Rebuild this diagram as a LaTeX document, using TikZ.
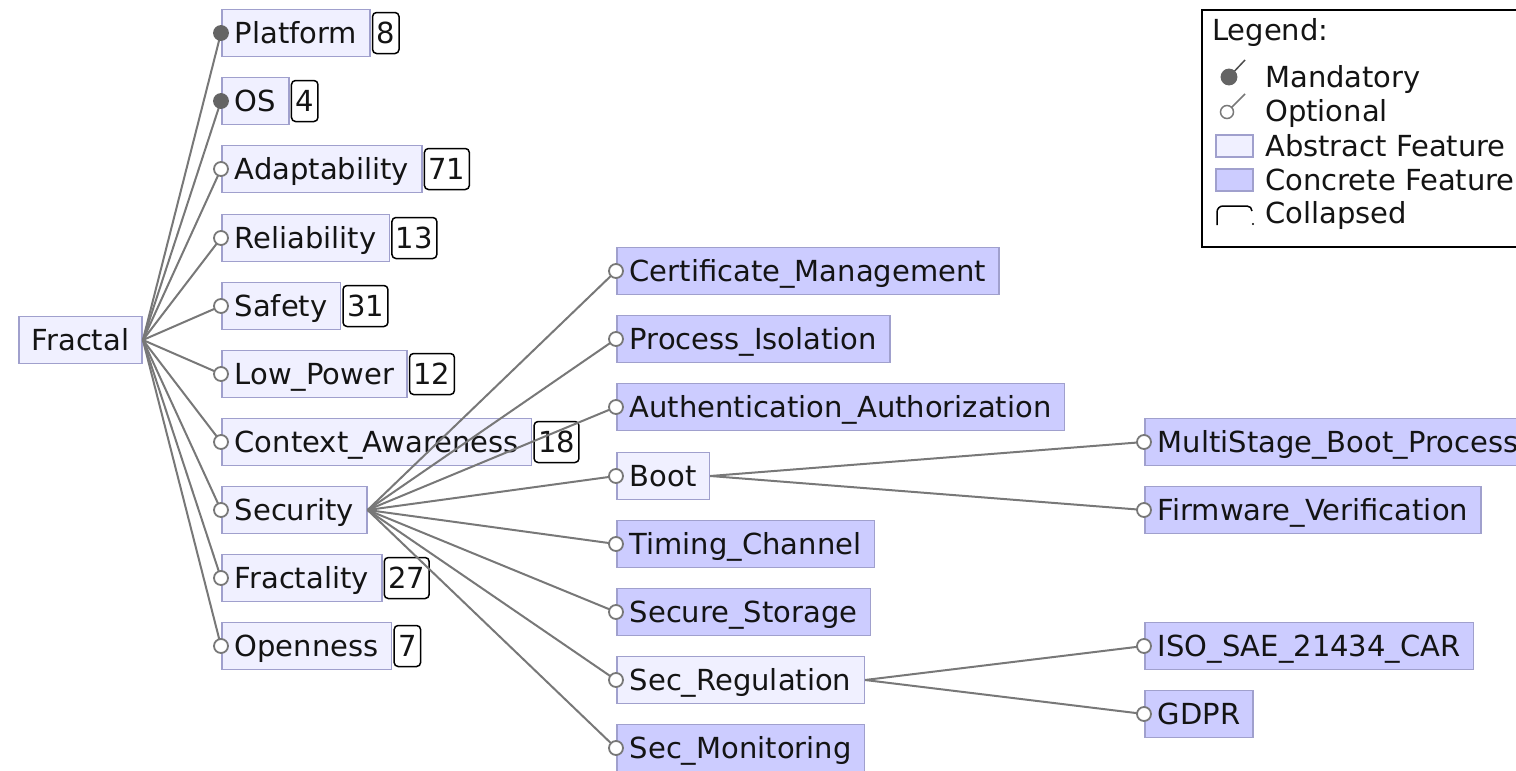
\documentclass[tikz,border=0pt]{standalone}
\usepackage{fontspec}
\setmainfont{DejaVu Sans}
\definecolor{absfill}{RGB}{240,240,255}
\definecolor{confill}{RGB}{204,204,255}
\definecolor{featborder}{RGB}{160,160,205}
\definecolor{edgegray}{RGB}{120,120,120}
\definecolor{mandgray}{RGB}{100,100,100}
\definecolor{ink}{RGB}{20,20,20}
\newcommand{\featfont}{\fontsize{29}{34}\selectfont}
\tikzset{
  feat/.style={draw=featborder, line width=1.5pt, inner xsep=13pt, inner ysep=0pt,
    minimum height=47pt, text height=27pt, text depth=6.4pt, anchor=west,
    font=\featfont, text=ink},
  abstractfeat/.style={feat, fill=absfill},
  concretefeat/.style={feat, fill=confill},
  count/.style={draw=black, line width=1.5pt, fill=white, rounded corners=4pt,
    inner xsep=4pt, inner ysep=0pt, minimum height=41pt, text height=27pt,
    text depth=6.4pt, anchor=west, font=\featfont, text=ink},
  edge/.style={draw=edgegray, line width=2pt},
  optmark/.style={circle, draw=edgegray, fill=white, line width=1.8pt,
    inner sep=0pt, minimum size=14pt},
  mandmark/.style={optmark, draw=mandgray, fill=mandgray},
  legtext/.style={inner sep=0pt, anchor=west, text height=27pt, text depth=6.4pt,
    font=\featfont, text=ink},
}
\begin{document}
\begin{tikzpicture}[x=1pt,y=-1pt]
\useasboundingbox (0,0) rectangle (1516,771);

% root
\node[abstractfeat] (fractal) at (18,340) {Fractal};

% first level
\node[abstractfeat] (platform) at (221,33) {Platform};
\node[count] (platform-n) at ([xshift=1pt]platform.east) {8};
\node[abstractfeat] (os) at (221,101) {OS};
\node[count] (os-n) at ([xshift=1pt]os.east) {4};
\node[abstractfeat] (adapt) at (221,169) {Adaptability};
\node[count] (adapt-n) at ([xshift=1pt]adapt.east) {71};
\node[abstractfeat] (reliab) at (221,238) {Reliability};
\node[count] (reliab-n) at ([xshift=1pt]reliab.east) {13};
\node[abstractfeat] (safety) at (221,306) {Safety};
\node[count] (safety-n) at ([xshift=1pt]safety.east) {31};
\node[abstractfeat] (lowpower) at (221,374) {Low\_Power};
\node[count] (lowpower-n) at ([xshift=1pt]lowpower.east) {12};
\node[abstractfeat] (context) at (221,442) {Context\_Awareness};
\node[count] (context-n) at ([xshift=1pt]context.east) {18};
\node[abstractfeat] (security) at (221,510) {Security};
\node[abstractfeat] (fractality) at (221,578) {Fractality};
\node[count] (fractality-n) at ([xshift=1pt]fractality.east) {27};
\node[abstractfeat] (openness) at (221,646) {Openness};
\node[count] (openness-n) at ([xshift=1pt]openness.east) {7};

% security children
\node[concretefeat] (cert) at (616,271) {Certificate\_Management};
\node[concretefeat] (isol) at (616,339) {Process\_Isolation};
\node[concretefeat] (auth) at (616,407) {Authentication\_Authorization};
\node[abstractfeat] (boot) at (616,476) {Boot};
\node[concretefeat] (timing) at (616,544) {Timing\_Channel};
\node[concretefeat] (storage) at (616,612) {Secure\_Storage};
\node[abstractfeat] (regul) at (616,680) {Sec\_Regulation};
\node[concretefeat] (monit) at (616,748) {Sec\_Monitoring};

% third level
\node[concretefeat] (multiboot) at (1144,442) {MultiStage\_Boot\_Process};
\node[concretefeat] (firmware) at (1144,510) {Firmware\_Verification};
\node[concretefeat] (iso) at (1144,646) {ISO\_SAE\_21434\_CAR};
\node[concretefeat] (gdpr) at (1144,714) {GDPR};

% connectors
\foreach \c in {platform,os,adapt,reliab,safety,lowpower,context,security,fractality,openness}
  \draw[edge] (fractal.east) -- (\c.west);
\foreach \c in {cert,isol,auth,boot,timing,storage,regul,monit}
  \draw[edge] (security.east) -- (\c.west);
\foreach \c in {multiboot,firmware}
  \draw[edge] (boot.east) -- (\c.west);
\foreach \c in {iso,gdpr}
  \draw[edge] (regul.east) -- (\c.west);

% mandatory / optional markers
\foreach \c in {platform,os}
  \node[mandmark] (\c-mark) at (\c.west) {};
\foreach \c in {adapt,reliab,safety,lowpower,context,security,fractality,openness,
                cert,isol,auth,boot,timing,storage,regul,monit,
                multiboot,firmware,iso,gdpr}
  \node[optmark] (\c-mark) at (\c.west) {};

% legend
\draw[black, line width=2pt, fill=white] (1202,10) rectangle (1545,247);
\node[legtext] (leg-title) at (1212,30) {Legend:};
\coordinate (leg-m) at (1229,77);
\coordinate (leg-m-tip) at (1245,60);
\draw[edge, draw=black!70, line width=1.5pt] (leg-m) -- (leg-m-tip);
\node[mandmark, minimum size=15pt] (leg-m-mark) at (leg-m) {};
\node[legtext] (leg-mand) at (1265,77) {Mandatory};
\coordinate (leg-o) at (1227,112);
\coordinate (leg-o-tip) at (1245,94);
\draw[edge, line width=1.5pt] (leg-o) -- (leg-o-tip);
\node[optmark, minimum size=13pt, line width=1.5pt] (leg-o-mark) at (leg-o) {};
\node[legtext] (leg-opt) at (1265,111) {Optional};
\draw[featborder, line width=1.5pt, fill=absfill] (1216,135) rectangle (1253,157);
\node[legtext] (leg-abs) at (1265,146) {Abstract Feature};
\draw[featborder, line width=1.5pt, fill=confill] (1216,169) rectangle (1253,191);
\node[legtext] (leg-con) at (1265,180) {Concrete Feature};
\draw[black, line width=1.5pt] (1217,225) -- (1217,212)
  arc[start angle=180, end angle=270, radius=6]
  -- (1247,206) arc[start angle=270, end angle=360, radius=5];
\fill[black] (1253,224) circle[radius=1.2];
\node[legtext] (leg-col) at (1265,213) {Collapsed};
\end{tikzpicture}
\end{document}
